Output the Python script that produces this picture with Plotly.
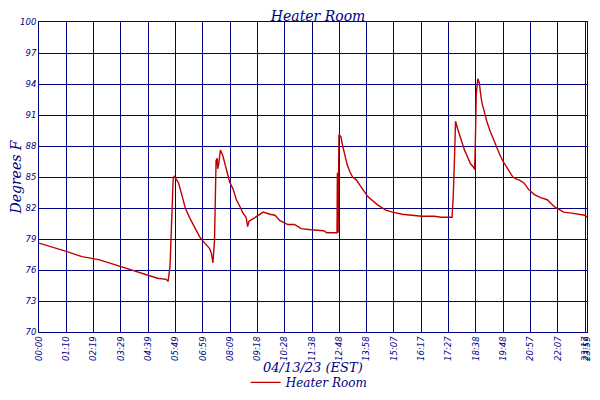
import plotly.graph_objects as go

# readings (x in tick units of the logger axis, 70 per grid step)
x_pos = [0, 28, 70, 110, 153, 196, 236, 278, 304, 326, 331, 336, 341, 344, 347,
         358, 366, 375, 387, 400, 412, 425, 437, 442, 446, 450, 452, 454, 457, 458,
         461, 465, 471, 477, 482, 489, 498, 506, 517, 523, 531, 535, 538, 550, 563,
         575, 592, 605, 617, 638, 655, 672, 697, 730, 738, 764, 765, 767, 769, 774,
         778, 782, 786, 790, 797, 804, 814, 822, 830, 843, 856, 868, 889, 906, 931,
         956, 981, 1014, 1031, 1059, 1062, 1065, 1066, 1068, 1073, 1080, 1086, 1091, 1098, 1106,
         1115, 1117, 1119, 1121, 1125, 1129, 1132, 1136, 1142, 1148, 1157, 1165, 1173, 1182, 1190,
         1199, 1207, 1215, 1224, 1232, 1244, 1255, 1270, 1286, 1303, 1311, 1322, 1332, 1345, 1366,
         1382, 1399, 1405]
temp_f = [78.6, 78.3, 77.8, 77.3, 77.0, 76.5, 76.0, 75.5, 75.2, 75.1, 74.9, 76.4, 81.6, 84.8, 85.1,
          84.4, 83.3, 82.0, 81.0, 80.0, 79.2, 78.6, 78.1, 77.6, 76.7, 78.9, 82.8, 86.6, 86.8, 85.8,
          86.3, 87.6, 87.1, 86.3, 85.5, 84.5, 83.8, 82.8, 82.0, 81.5, 81.1, 80.2, 80.7, 81.0, 81.3,
          81.6, 81.4, 81.3, 80.8, 80.4, 80.4, 80.0, 79.9, 79.8, 79.6, 79.6, 85.4, 79.6, 89.1, 88.9,
          88.1, 87.5, 86.8, 86.2, 85.5, 85.0, 84.7, 84.2, 83.8, 83.1, 82.7, 82.3, 81.8, 81.6, 81.4,
          81.3, 81.2, 81.2, 81.1, 81.1, 83.1, 86.5, 89.7, 90.4, 89.7, 88.8, 88.1, 87.6, 87.0, 86.3,
          85.9, 85.7, 88.8, 93.0, 94.5, 94.1, 93.1, 92.1, 91.3, 90.4, 89.4, 88.6, 87.8, 87.1, 86.5,
          86.0, 85.5, 85.0, 84.8, 84.7, 84.4, 83.8, 83.3, 83.0, 82.8, 82.5, 82.1, 81.9, 81.6, 81.5,
          81.4, 81.3, 81.1]

tick_vals = [0, 70, 140, 210, 280, 350, 420, 490, 560, 630, 700, 770, 840, 910, 980,
             1050, 1120, 1190, 1260, 1330, 1400, 1405]
tick_text = ["00:00", "01:10", "02:19", "03:29", "04:39", "05:49", "06:59", "08:09", "09:18",
             "10:28", "11:38", "12:48", "13:58", "15:07", "16:17", "17:27", "18:38", "19:48",
             "20:57", "22:07", "23:17", "23:59"]
y_ticks = [70, 73, 76, 79, 82, 85, 88, 91, 94, 97, 100]

navy = "#000080"
serif_it = dict(family="DejaVu Serif", style="italic", color=navy)
sans_it = dict(family="DejaVu Sans", style="italic", color=navy, size=8.5)

fig = go.Figure()
fig.add_trace(go.Scatter(
    x=x_pos, y=temp_f, mode="lines", name="Heater Room",
    line=dict(color="#C00000", width=1.4)
))

# x axis caption as an annotation so it sits below the rotated tick labels
fig.add_annotation(text="04/13/23 (EST)", xref="paper", yref="paper", x=0.5, y=-0.113,
                   xanchor="center", yanchor="middle", showarrow=False,
                   font=dict(serif_it, size=13))

# the page keeps an 8px body margin, so size the figure to fit inside 600x400
fig.update_layout(
    width=584, height=384,
    paper_bgcolor="white", plot_bgcolor="white",
    margin=dict(l=31, r=5, t=14, b=60),
    title=dict(text="Heater Room", x=0.531, xanchor="center", y=0.979, yanchor="middle",
               font=dict(serif_it, size=14)),
    showlegend=True,
    legend=dict(orientation="h", x=0.494, xanchor="center", yref="container",
                y=0.025, yanchor="middle", font=dict(serif_it, size=12), itemwidth=30,
                tracegroupgap=0),
    xaxis=dict(
        range=[0, 1405], tickmode="array", tickvals=tick_vals, ticktext=tick_text,
        tickangle=-90, tickfont=sans_it, ticklabeloverflow="allow",
        showgrid=True, gridcolor=navy, gridwidth=1,
        showline=True, linecolor=navy, linewidth=1, mirror=True, zeroline=False,
        automargin=False,
    ),
    yaxis=dict(
        range=[70, 100], tickmode="array", tickvals=y_ticks, tickfont=sans_it,
        showgrid=True, gridcolor=navy, gridwidth=1,
        showline=True, linecolor=navy, linewidth=1, mirror=True, zeroline=False,
        title=dict(text="Degrees F", font=dict(serif_it, size=14), standoff=0),
        automargin=False,
    ),
)

fig.write_html("out.html")
